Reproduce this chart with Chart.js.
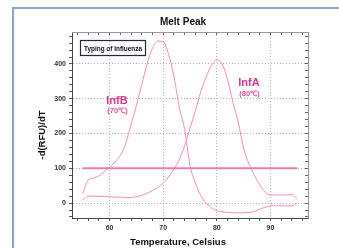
<!DOCTYPE html>
<html>
<head>
<meta charset="utf-8">
<script src="https://cdn.jsdelivr.net/npm/chart.js@4.4.0/dist/chart.umd.min.js"></script>
<style>
html, body { margin: 0; padding: 0; background: #fff; overflow: hidden; }
#wrap { position: relative; width: 339px; height: 248px; }
#frame { position: absolute; left: 12px; top: 7px; width: 400px; height: 400px;
         border-left: 2px solid #8ca5d8; border-top: 2px solid #8ca5d8; }
canvas { position: absolute; left: 0; top: 0; }
</style>
</head>
<body>
<div id="wrap"><div id="frame"></div><canvas id="chart" width="339" height="248"></canvas></div>
<script>
const temps = [55, 56, 57, 58, 59, 60, 61, 62, 63, 64, 65, 66, 67, 68, 69, 70, 71, 72, 73, 74, 75,
               76, 77, 78, 79, 80, 81, 82, 83, 84, 85, 86, 87, 88, 89, 90, 91, 92, 93, 94, 95];
const infB = [26, 66, 72, 78, 90, 102, 118, 137, 170, 225, 280, 340, 400, 445, 466, 464, 428, 365, 275, 212, 108,
              58, 22, 0, -14, -22, -25, -27, -28, -28, -28, -27, -24, -18, -12, -8, -8, -8, -8, -8, 0];
const infA = [9, 20, 20, 19, 19, 18, 17, 17, 16, 16, 18, 22, 28, 36, 45, 57, 75, 97, 125, 165, 215,
              265, 320, 362, 396, 412, 400, 355, 290, 232, 158, 112, 80, 52, 32, 23, 23, 23, 23, 25, 11];
const thresholdX = [55, 95];
const thresholdY = [100, 100];
const xMajor = [60, 70, 80, 90];
const yMajor = [0, 100, 200, 300, 400];

const pink = '#f48cc0';
const tickFont = { family: 'Liberation Sans, Arial, sans-serif', size: 7, weight: 'bold' };

function points(xs, ys) {
    return xs.map((x, i) => ({ x: x, y: ys[i] }));
}

function stepTicks(from, to, step) {
    const out = [];
    for (let v = from; v <= to; v += step) out.push({ value: v });
    return out;
}

const textPlugin = {
    id: 'texts',
    afterDraw(chart) {
        const ctx = chart.ctx;
        ctx.save();
        ctx.textBaseline = 'alphabetic';
        ctx.textAlign = 'center';

        ctx.fillStyle = '#111';
        ctx.font = 'bold 10px "Liberation Sans", Arial, sans-serif';
        ctx.fillText('Melt Peak', 183, 25);

        ctx.font = 'bold 9.5px "Liberation Sans", Arial, sans-serif';
        ctx.fillText('Temperature, Celsius', 178, 245);

        ctx.save();
        ctx.translate(45, 135);
        ctx.rotate(-Math.PI / 2);
        ctx.fillText('-d(RFU)/dT', 0, 0);
        ctx.restore();

        // legend box
        ctx.strokeStyle = '#1e2a44';
        ctx.lineWidth = 1.2;
        ctx.strokeRect(80.5, 40.5, 65, 15);
        ctx.fillStyle = '#111';
        ctx.font = 'bold 6.5px "Liberation Sans", Arial, sans-serif';
        ctx.fillText('Typing of Influenza', 113, 50.5, 58);

        ctx.fillStyle = '#e8358c';
        ctx.font = 'bold 11px "Liberation Sans", Arial, sans-serif';
        ctx.fillText('InfB', 117, 103.5);
        ctx.fillText('InfA', 249, 86);
        ctx.fillStyle = '#ea4f9a';
        ctx.font = 'bold 7.5px "Liberation Sans", Arial, sans-serif';
        ctx.fillText('(70\u2103)', 117.5, 112.5);
        ctx.fillText('(80\u2103)', 249.5, 96);
        ctx.restore();
    }
};

new Chart(document.getElementById('chart'), {
    type: 'line',
    data: {
        datasets: [
            { data: points(thresholdX, thresholdY), borderColor: '#f07ab4', borderWidth: 2, pointRadius: 0 },
            { data: points(temps, infB), borderColor: pink, borderWidth: 1, pointRadius: 0, cubicInterpolationMode: 'monotone' },
            { data: points(temps, infA), borderColor: pink, borderWidth: 1, pointRadius: 0, cubicInterpolationMode: 'monotone' }
        ]
    },
    options: {
        responsive: false,
        animation: false,
        layout: { padding: { left: 0, right: 31, top: 32, bottom: 0 } },
        plugins: { legend: { display: false }, tooltip: { enabled: false } },
        scales: {
            x: {
                type: 'linear', position: 'bottom', min: 53, max: 97,
                afterBuildTicks: s => { s.ticks = stepTicks(54, 96, 2); },
                afterFit: s => { s.height = 30; },
                ticks: {
                    autoSkip: false, maxRotation: 0, padding: 3, color: '#333', font: tickFont,
                    callback: v => xMajor.includes(v) ? v : ''
                },
                grid: {
                    color: c => xMajor.includes(c.tick.value) ? '#b5b5b5' : 'transparent',
                    tickColor: '#555', tickLength: 3, lineWidth: 1
                },
                border: { color: '#444', width: 1, dash: [1, 2] }
            },
            y: {
                type: 'linear', position: 'left', min: -43, max: 492,
                afterBuildTicks: s => { s.ticks = stepTicks(-40, 480, 20); },
                afterFit: s => { s.width = 72; },
                ticks: {
                    autoSkip: false, padding: 3, color: '#333', font: tickFont,
                    callback: v => yMajor.includes(v) ? v : ''
                },
                grid: {
                    color: c => yMajor.includes(c.tick.value) ? '#b5b5b5' : 'transparent',
                    tickColor: '#555', tickLength: 3, lineWidth: 1
                },
                border: { color: '#444', width: 1, dash: [1, 2] }
            },
            x2: {
                type: 'linear', position: 'top', min: 53, max: 97,
                afterBuildTicks: s => { s.ticks = stepTicks(54, 96, 2); },
                afterFit: s => { s.height = 0; },
                ticks: { display: false },
                grid: { drawOnChartArea: false, tickColor: '#666', tickLength: -3 },
                border: { color: '#999', width: 1 }
            },
            y2: {
                type: 'linear', position: 'right', min: -43, max: 492,
                afterBuildTicks: s => { s.ticks = stepTicks(-40, 480, 20); },
                afterFit: s => { s.width = 0; },
                ticks: { display: false },
                grid: { drawOnChartArea: false, tickColor: '#666', tickLength: -3 },
                border: { color: '#999', width: 1 }
            }
        }
    },
    plugins: [textPlugin]
});
</script>
</body>
</html>
